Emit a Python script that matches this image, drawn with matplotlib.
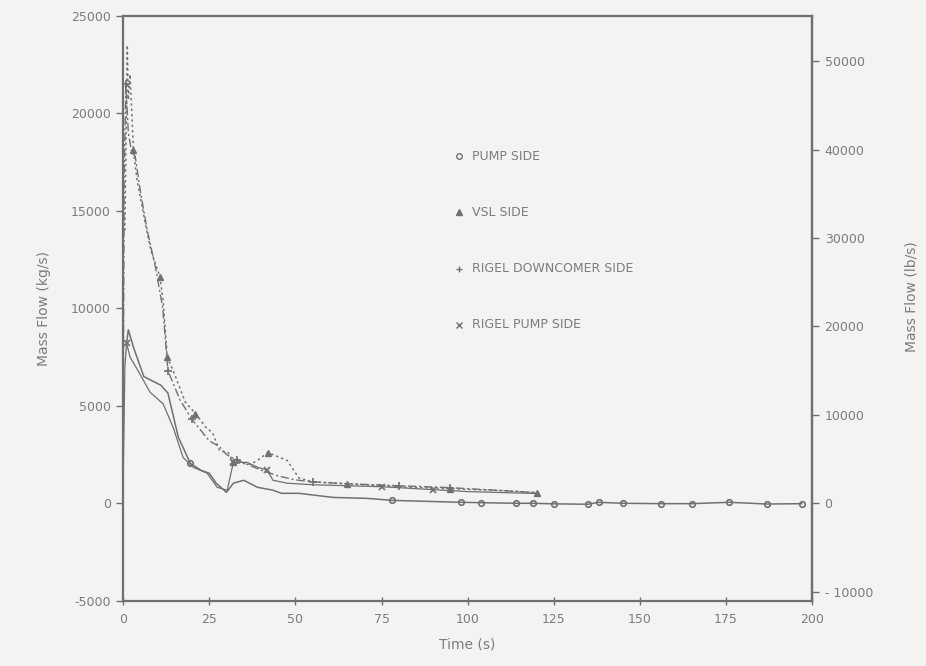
import matplotlib.pyplot as plt

# ---------------------------------------------------------------
# data (mass flow in kg/s vs time in s)
# ---------------------------------------------------------------
pump_t = [1, 1.5, 3, 6, 11, 13, 16, 19.5, 22.5, 25, 27, 30, 32, 35, 39, 43.5, 46, 51, 61, 71,
          78, 88, 98, 104, 114, 119, 125, 135, 138, 145, 156, 165, 176, 187, 197]
pump_v = [8200, 8900, 8000, 6500, 6050, 5650, 3400, 2050, 1700, 1540, 1030, 560, 1030, 1180, 820, 670, 510, 510, 300, 250,
          150, 100, 50, 30, 0, 0, -30, -50, 50, 0, -20, -20, 50, -40, -20]
pump_marks = [7, 20, 22, 23, 24, 25, 26, 27, 28, 29, 30, 31, 32, 33, 34]

vsl_t = [0.5, 1, 1.2, 1.5, 2, 3, 4, 6.5, 8, 10.7, 11.6, 12.8, 15, 18, 21, 24, 26, 28, 30.5, 32,
         37, 39, 42, 47.6, 51, 55, 65, 80, 95, 110, 120]
vsl_v = [14000, 21000, 23500, 20700, 22000, 18100, 16600, 14300, 13000, 11600, 10400, 7500, 6600, 5200, 4600, 3900, 3600, 2700, 2600, 2100,
         2000, 2200, 2600, 2200, 1300, 1100, 1000, 850, 750, 650, 550]
vsl_marks = [5, 9, 11, 14, 19, 22, 26, 28, 30]

rdc_t = [0, 0.3, 0.8, 1.5, 2.5, 3.5, 5, 7, 9.5, 11.5, 13, 16.5, 20, 25, 28, 30, 33, 36, 40, 45,
         50, 55, 65, 80, 95, 110, 120]
rdc_v = [3000, 17000, 21500, 19000, 18000, 17800, 16000, 14000, 12000, 10000, 6800, 5300, 4300, 3200, 2900, 2500, 2200, 2000, 1700, 1400,
         1200, 1100, 1000, 900, 800, 650, 550]
rdc_marks = [2, 10, 12, 16, 21, 23, 24]

rpump_t = [0, 0.5, 1, 2, 4, 7.8, 11.6, 14.5, 17.4, 20.3, 24.4, 27.3, 30.2, 32, 36, 39, 41.8, 43.5, 47.6, 55,
           61, 75, 90, 100, 110, 120]
rpump_v = [1000, 7000, 8200, 7500, 6900, 5700, 5100, 3900, 2350, 1850, 1540, 820, 670, 2100, 2100, 1850, 1700, 1180, 1030, 950,
           920, 850, 700, 600, 550, 500]
rpump_marks = [2, 13, 16, 21, 22]

legend_labels = ["PUMP SIDE", "VSL SIDE", "RIGEL DOWNCOMER SIDE", "RIGEL PUMP SIDE"]
legend_marks = ["o", "^", "+", "x"]

KG_TO_LB = 2.20462

ink = "#707070"
txt = "#7c7c7c"
paper = "#f3f3f1"

fig = plt.figure(figsize=(9.26, 6.66), dpi=100, facecolor=paper)
ax = fig.add_axes([0.133, 0.098, 0.744, 0.878], facecolor=paper)

ax.plot(pump_t, pump_v, color=ink, lw=1.1, ls='-', marker='o', ms=4, mfc='none', mew=1.2, markevery=pump_marks)
ax.plot(vsl_t, vsl_v, color=ink, lw=1.1, ls=(0, (1.5, 2)), marker='^', ms=5, markevery=vsl_marks)
ax.plot(rdc_t, rdc_v, color=ink, lw=1.0, ls=(0, (6, 2, 1.5, 2)), marker='+', ms=6, mew=1.2, markevery=rdc_marks)
ax.plot(rpump_t, rpump_v, color=ink, lw=0.9, ls='-', marker='x', ms=4, mew=1.2, markevery=rpump_marks)

# hand-placed legend, markers without line samples
for i in range(len(legend_labels)):
    yy = 0.76 - i * 0.096
    ax.plot([0.487], [yy], transform=ax.transAxes, color=ink, marker=legend_marks[i], ms=4,
            mfc='none' if legend_marks[i] == 'o' else ink, mew=1.0, ls='none')
    ax.text(0.507, yy, legend_labels[i], transform=ax.transAxes, color=txt, fontsize=9, va='center', ha='left')

ax.set_xlim(0, 200)
ax.set_ylim(-5000, 25000)
ax.set_xticks(range(0, 201, 25))
ax.set_yticks(range(-5000, 25001, 5000))
ax.set_yticklabels(["-5000", "0", "5000", "10000", "15000", "20000", "25000"])

for s in ax.spines.values():
    s.set_color(ink)
    s.set_linewidth(1.6)

ax.tick_params(axis='x', direction='inout', length=6, width=1, colors=ink, labelcolor=txt, labelsize=9, pad=6)
ax.tick_params(axis='y', direction='out', length=5, width=1, colors=ink, labelcolor=txt, labelsize=9, pad=4)

ax.set_xlabel("Time (s)", color=txt, fontsize=10, labelpad=8)
ax.set_ylabel("Mass Flow (kg/s)", color=txt, fontsize=10, labelpad=14)

# right axis in lb/s
ax2 = ax.secondary_yaxis('right', functions=(lambda x: x * KG_TO_LB, lambda x: x / KG_TO_LB))
ax2.set_yticks(range(-10000, 50001, 10000))
ax2.set_yticklabels(["- 10000", "0", "10000", "20000", "30000", "40000", "50000"])
ax2.tick_params(direction='out', length=5, width=1, colors=ink, labelcolor=txt, labelsize=9, pad=4)
ax2.spines['right'].set_color(ink)
ax2.spines['right'].set_linewidth(1.6)
fig.text(0.984, 0.555, "Mass Flow (lb/s)", rotation=90, color=txt, fontsize=10, ha='center', va='center')

plt.savefig("out.png", dpi=100, facecolor=paper)
